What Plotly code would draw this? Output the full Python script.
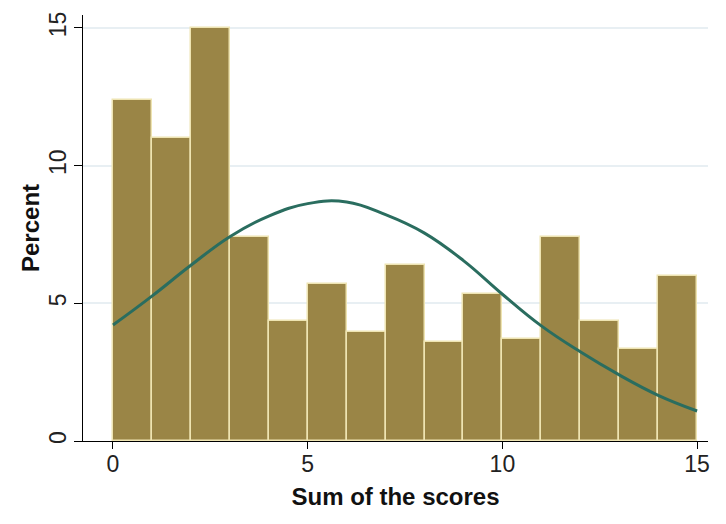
import plotly.graph_objects as go

# Histogram bins (left edges, width 1) and percentages
bin_left = list(range(15))
percent = [12.39, 11.0, 15.0, 7.41, 4.36, 5.70, 3.96, 6.39, 3.60, 5.34, 3.70, 7.41, 4.36, 3.34, 5.99]

# Normal density overlay
curve_x = list(range(16))
curve_y = [4.21, 5.26, 6.38, 7.42, 8.17, 8.62, 8.68, 8.22, 7.55, 6.55, 5.33, 4.18, 3.24, 2.40, 1.66, 1.09]

tick_vals = [0, 5, 10, 15]
tick_text = ["0", "5", "10", "15"]

FONT = "Liberation Sans, Arial, Helvetica, sans-serif"

fig = go.Figure()
fig.add_trace(go.Bar(
    x=bin_left, y=percent, width=1, offset=0,
    marker=dict(color="#9A8546", line=dict(color="#EEE4B2", width=1.5)),
    hoverinfo="x+y", showlegend=False,
))
fig.add_trace(go.Scatter(
    x=curve_x, y=curve_y, mode="lines",
    line=dict(color="#2A6D5F", width=3, shape="spline", smoothing=1.2),
    showlegend=False,
))

fig.update_layout(
    width=726, height=524,
    margin=dict(l=75, r=26, t=7, b=91),
    paper_bgcolor="white", plot_bgcolor="white",
    bargap=0,
    font=dict(family=FONT, size=23, color="#222222"),
    xaxis=dict(
        range=[-0.77, 15.28], tickvals=tick_vals, ticktext=tick_text,
        automargin=False,
        showline=True, linecolor="black", linewidth=1.3,
        ticks="outside", ticklen=7, tickcolor="black", tickwidth=1.3,
        ticklabelstandoff=-5,
        showgrid=False, zeroline=False,
        tickfont=dict(size=23, color="#222222"),
        title=dict(text="<b>Sum of the scores</b>", font=dict(size=24, color="#111111"), standoff=12),
    ),
    yaxis=dict(
        range=[0, 15.47], tickvals=tick_vals, ticktext=tick_text,
        automargin=False,
        showline=True, linecolor="black", linewidth=1.3,
        ticks="outside", ticklen=8, tickcolor="black", tickwidth=1.3,
        tickangle=-90,
        ticklabelstandoff=-1,
        showgrid=True, gridcolor="#E8EFF3", gridwidth=1.5, zeroline=False,
        tickfont=dict(size=23, color="#222222"),
    ),
    annotations=[dict(
        text="<b>Percent</b>", xref="paper", yref="paper", x=0, y=0.5,
        xanchor="center", yanchor="middle", xshift=-53, textangle=-90,
        showarrow=False, font=dict(size=24, color="#111111", family=FONT),
    )],
)

fig.write_html("out.html")
